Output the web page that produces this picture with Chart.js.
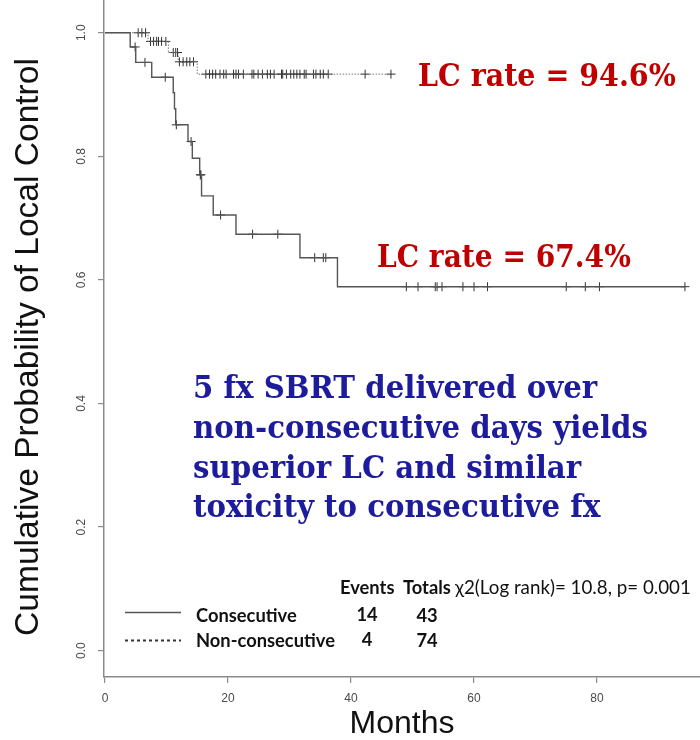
<!DOCTYPE html>
<html>
<head>
<meta charset="utf-8">
<title>Local control: consecutive vs non-consecutive SBRT</title>
<script src="https://cdn.jsdelivr.net/npm/chart.js@4.4.1/dist/chart.umd.min.js"></script>
<style>
  html, body { margin: 0; padding: 0; background: #ffffff; }
  #wrap { width: 700px; height: 740px; }
</style>
</head>
<body>
<div id="wrap"><canvas id="km" width="700" height="740"></canvas></div>
<script>
// Axis ticks
const xTicks = [0, 20, 40, 60, 80];
const yTicks = [0, 0.2, 0.4, 0.6, 0.8, 1.0];
const yTickLabels = ['0.0', '0.2', '0.4', '0.6', '0.8', '1.0'];

// Consecutive fractions: step times (months) and local control after each step
const consecTimes = [0, 4.1, 5.0, 7.6, 11.1, 11.3, 11.5, 13.5, 14.2, 15.4, 15.7, 17.6, 21.3, 31.7, 37.8, 94.3];
const consecSurv  = [1.0, 0.977, 0.952, 0.928, 0.903, 0.877, 0.851, 0.824, 0.797, 0.770, 0.736, 0.705, 0.674, 0.636, 0.589, 0.589];
const consecCensor = [4.9, 6.5, 9.8, 11.6, 14.0, 15.5, 15.6, 18.8, 24.0, 28.1, 34.1, 35.5, 35.9,
  49.0, 50.9, 53.7, 54.0, 54.8, 58.2, 60.0, 62.2, 75.0, 78.1, 80.4, 94.3];

// Non-consecutive fractions
const nonconTimes = [0, 7.0, 10.3, 11.9, 15.0, 46.5];
const nonconSurv  = [1.0, 0.986, 0.968, 0.953, 0.933, 0.933];
const nonconCensor = [5.4, 6.0, 6.6, 7.4, 7.9, 8.4, 8.7, 9.2, 9.9, 11.1, 11.5, 11.8, 12.1, 12.7, 13.3, 13.8, 14.4,
  16.4, 17.0, 17.5, 18.0, 18.7, 19.3, 19.7, 20.9, 21.3, 21.7, 22.5, 23.9, 24.2, 24.9, 25.6, 26.4, 26.9, 27.5,
  28.7, 28.9, 29.5, 30.2, 30.7, 31.2, 31.7, 32.4, 32.7, 33.9, 34.3, 35.0, 35.5, 36.3, 42.3, 46.5];

// Summary table
const groupNames = ['Consecutive', 'Non-consecutive'];
const groupEvents = [14, 4];
const groupTotals = [43, 74];
const tableHeader = ['Events', 'Totals'];
const testText = 'χ2(Log rank)= 10.8, p= 0.001';

// Callouts
const rateLabels = ['LC rate = 94.6%', 'LC rate = 67.4%'];
const noteLines = [
  '5 fx SBRT delivered over',
  'non-consecutive days yields',
  'superior LC and similar',
  'toxicity to consecutive fx'
];

function stepPoints(times, surv) {
  return times.map((t, i) => ({ x: t, y: surv[i] }));
}
function survAt(times, surv, t) {
  let s = surv[0];
  for (let i = 0; i < times.length; i++) if (times[i] <= t) s = surv[i];
  return s;
}
function censorPoints(cens, times, surv) {
  return cens.map(t => ({ x: t, y: survAt(times, surv, t) }));
}

// size a font so that the text spans the given width
function fitSize(c, text, weight, family, width) {
  c.font = `${weight} 20px ${family}`;
  return 20 * width / c.measureText(text).width;
}

const annotate = {
  id: 'annotate',
  afterDraw(chart) {
    const c = chart.ctx;
    c.save();

    // y-axis title
    const yTitle = 'Cumulative Probability of Local Control';
    const ySize = fitSize(c, yTitle, 'normal', '"Liberation Sans", Arial, sans-serif', 578);
    c.translate(29, 347);
    c.rotate(-Math.PI / 2);
    c.font = `normal ${ySize}px "Liberation Sans", Arial, sans-serif`;
    c.fillStyle = '#111111';
    c.textAlign = 'center';
    c.textBaseline = 'middle';
    c.fillText(yTitle, 0, 0);
    c.setTransform(1, 0, 0, 1, 0, 0);

    // red rate callouts
    const serif = '"DejaVu Serif", serif';
    c.fillStyle = '#c00000';
    c.textAlign = 'left';
    c.textBaseline = 'alphabetic';
    const ratePos = [[418, 86, 258], [377, 267, 254]];
    rateLabels.forEach((txt, i) => {
      const [x, y, w] = ratePos[i];
      const s = fitSize(c, txt, 'bold', serif, w);
      c.save();
      c.translate(x, y);
      c.scale(1, 1.1);
      c.font = `bold ${s}px ${serif}`;
      c.fillText(txt, 0, 0);
      c.restore();
    });

    // blue note
    c.fillStyle = '#1c1c9c';
    const noteSize = fitSize(c, noteLines[1], 'bold', serif, 455);
    const noteBase = [398, 438, 478, 517];
    noteLines.forEach((txt, i) => {
      c.save();
      c.translate(193, noteBase[i]);
      c.scale(1, 1.08);
      c.font = `bold ${noteSize}px ${serif}`;
      c.fillText(txt, 0, 0);
      c.restore();
    });

    // summary table with legend keys
    const sans = 'Lato, "Open Sans", sans-serif';
    const bSize = fitSize(c, groupNames[1], 'bold', sans, 139);
    c.fillStyle = '#111111';
    c.font = `bold ${bSize}px ${sans}`;
    c.textAlign = 'left';
    c.fillText(tableHeader[0], 340, 594);
    c.fillText(tableHeader[1], 403, 594);
    const rSize = fitSize(c, testText, 'normal', sans, 236);
    c.font = `normal ${rSize}px ${sans}`;
    c.fillText(testText, 455, 594);

    c.font = `bold ${bSize}px ${sans}`;
    const rowBase = [622, 647];
    groupNames.forEach((g, i) => {
      c.textAlign = 'left';
      c.fillText(g, 196, rowBase[i]);
      c.textAlign = 'center';
      c.fillText(String(groupEvents[i]), 367, rowBase[i] - 1);
      c.fillText(String(groupTotals[i]), 427, rowBase[i]);
    });

    c.strokeStyle = '#555555';
    c.lineWidth = 1.4;
    c.beginPath();
    c.moveTo(125, 612.5);
    c.lineTo(181, 612.5);
    c.stroke();
    c.strokeStyle = '#333333';
    c.lineWidth = 2;
    c.setLineDash([3, 3]);
    c.beginPath();
    c.moveTo(125, 640.5);
    c.lineTo(181, 640.5);
    c.stroke();
    c.setLineDash([]);

    c.restore();
  }
};

new Chart(document.getElementById('km'), {
  data: {
    datasets: [
      {
        type: 'line',
        label: groupNames[0],
        data: stepPoints(consecTimes, consecSurv),
        stepped: true,
        borderColor: '#555555',
        borderWidth: 1.4,
        pointRadius: 0,
        fill: false
      },
      {
        type: 'line',
        label: groupNames[1],
        data: stepPoints(nonconTimes, nonconSurv),
        stepped: true,
        borderColor: '#777777',
        borderWidth: 1,
        borderDash: [1.5, 1.5],
        pointRadius: 0,
        fill: false
      },
      {
        type: 'scatter',
        label: groupNames[0] + ' censored',
        data: censorPoints(consecCensor, consecTimes, consecSurv),
        pointStyle: 'cross',
        pointRadius: 4.5,
        borderColor: '#333333',
        borderWidth: 1
      },
      {
        type: 'scatter',
        label: groupNames[1] + ' censored',
        data: censorPoints(nonconCensor, nonconTimes, nonconSurv),
        pointStyle: 'cross',
        pointRadius: 4.5,
        borderColor: '#333333',
        borderWidth: 1
      }
    ]
  },
  options: {
    responsive: false,
    animation: false,
    layout: { padding: 0, autoPadding: false },
    plugins: {
      legend: { display: false },
      tooltip: { enabled: false }
    },
    scales: {
      x: {
        type: 'linear',
        min: -0.16,
        max: 96.75,
        afterBuildTicks: s => { s.ticks = xTicks.map(v => ({ value: v })); },
        afterFit: s => { s.height = 63; s.paddingLeft = 0; s.paddingRight = 0; },
        ticks: {
          color: '#4a4a4a',
          font: { family: '"Liberation Sans", Arial, sans-serif', size: 12 },
          padding: 8,
          maxRotation: 0,
          callback: v => String(v)
        },
        grid: { drawOnChartArea: false, drawTicks: true, tickLength: 6, color: '#8a8a8a', lineWidth: 1.2 },
        border: { display: true, color: '#8a8a8a', width: 1.5 },
        title: {
          display: true,
          text: 'Months',
          color: '#111111',
          font: { family: '"Liberation Sans", Arial, sans-serif', size: 32, lineHeight: 1 },
          padding: { top: 0, bottom: 0 }
        }
      },
      y: {
        type: 'linear',
        min: -0.0426,
        max: 1.053,
        afterBuildTicks: s => { s.ticks = yTicks.map(v => ({ value: v })); },
        afterFit: s => { s.width = 104; s.paddingTop = 0; s.paddingBottom = 0; },
        ticks: {
          color: '#4a4a4a',
          font: { family: '"Liberation Sans", Arial, sans-serif', size: 12 },
          padding: 8,
          minRotation: 90,
          maxRotation: 90,
          crossAlign: 'center',
          callback: v => yTickLabels[yTicks.indexOf(v)] ?? ''
        },
        grid: { drawOnChartArea: false, drawTicks: true, tickLength: 6, color: '#8a8a8a', lineWidth: 1.2 },
        border: { display: true, color: '#8a8a8a', width: 1.5 },
        title: { display: false }
      }
    }
  },
  plugins: [annotate]
});
</script>
</body>
</html>
